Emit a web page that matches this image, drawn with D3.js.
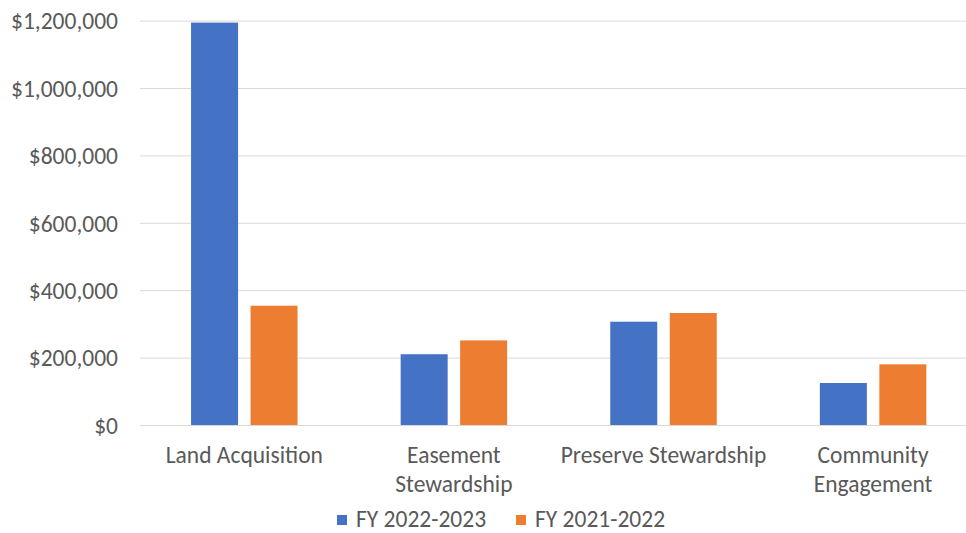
<!DOCTYPE html>
<html>
<head>
<meta charset="utf-8">
<script src="https://cdn.jsdelivr.net/npm/d3@7"></script>
<style>
  html, body { margin: 0; padding: 0; background: #fff; }
  svg { display: block; }
  text { font-family: Carlito, "Open Sans", sans-serif; fill: #595959; }
</style>
</head>
<body>
<script>
const categories = [["Land Acquisition"], ["Easement", "Stewardship"], ["Preserve Stewardship"], ["Community", "Engagement"]];
const categoryKeys = ["Land Acquisition", "Easement Stewardship", "Preserve Stewardship", "Community Engagement"];
const seriesNames = ["FY 2022-2023", "FY 2021-2022"];
const fy2223 = [1194000, 210000, 306500, 124600];
const fy2122 = [354000, 251000, 332300, 180100];
const yTicks = [0, 200000, 400000, 600000, 800000, 1000000, 1200000];
const colors = ["#4472C4", "#ED7D31"];

const W = 966, H = 533;
const FS = 23.5;
const svg = d3.select("body").append("svg").attr("width", W).attr("height", H);

const x0 = d3.scaleBand().domain(categoryKeys).range([139.5, 977.9]).paddingInner(0.492).paddingOuter(0.246);
const x1 = d3.scaleBand().domain(seriesNames).range([0, x0.bandwidth()]).paddingInner(0.21).paddingOuter(0);
const y = d3.scaleLinear().domain([0, 1200000]).range([425, 20.6]);

// gridlines + y labels
const yAxis = d3.axisLeft(y).tickValues(yTicks).tickSize(-(W - 140)).tickFormat(d => "$" + d3.format(",")(d)).tickPadding(22);
const gy = svg.append("g").attr("transform", "translate(140,0)").call(yAxis);
gy.select(".domain").remove();
gy.selectAll(".tick line").attr("stroke", "#d9d9d9").attr("stroke-width", 1);
gy.selectAll(".tick text").attr("font-size", FS).attr("fill", "#595959").attr("dy", "0.35em");

// bars
const data = categoryKeys.map((c, i) => ({ c, vals: [fy2223[i], fy2122[i]] }));
const groups = svg.append("g").selectAll("g").data(data).join("g")
  .attr("transform", d => `translate(${x0(d.c)},0)`);
groups.selectAll("rect").data(d => d.vals.map((v, j) => ({ s: seriesNames[j], v, j })))
  .join("rect")
  .attr("x", d => x1(d.s))
  .attr("y", d => y(d.v))
  .attr("width", x1.bandwidth())
  .attr("height", d => y(0) - y(d.v))
  .attr("fill", d => colors[d.j]);

// category labels
const labels = svg.append("g").selectAll("text").data(categories).join("text")
  .attr("x", (d, i) => x0(categoryKeys[i]) + x0.bandwidth() / 2)
  .attr("y", 463)
  .attr("text-anchor", "middle")
  .attr("font-size", FS);
labels.selectAll("tspan").data(d => d).join("tspan")
  .attr("x", function () { return d3.select(this.parentNode).attr("x"); })
  .attr("dy", (d, i) => i === 0 ? 0 : 29)
  .text(d => d);

// legend
const legendX = [337, 516];
const leg = svg.append("g").selectAll("g").data(seriesNames).join("g")
  .attr("transform", (d, i) => `translate(${legendX[i]},520)`);
leg.append("rect").attr("x", 0).attr("y", -5).attr("width", 10).attr("height", 10).attr("fill", (d, i) => colors[i]);
leg.append("text").attr("x", 19).attr("y", 7).attr("font-size", FS).text(d => d);
</script>
</body>
</html>
